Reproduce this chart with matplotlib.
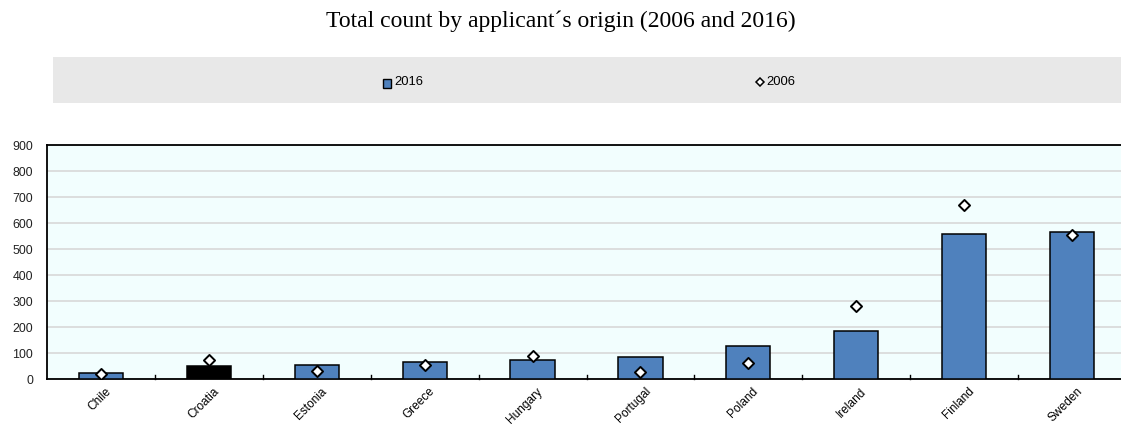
import matplotlib
matplotlib.use("Agg")
import matplotlib.pyplot as plt
from matplotlib.patches import Rectangle
from matplotlib import font_manager, transforms
import numpy as np

countries = ["Chile", "Croatia", "Estonia", "Greece", "Hungary", "Portugal",
             "Poland", "Ireland", "Finland", "Sweden"]
v2016 = [25, 50, 55, 66, 73, 86, 128, 187, 559, 564]
v2006 = [20, 74, 32, 56, 88, 27, 63, 281, 669, 554]
yticks = [0, 100, 200, 300, 400, 500, 600, 700, 800, 900]

names = {f.name for f in font_manager.fontManager.ttflist}
narrow = 'Liberation Sans Narrow' if 'Liberation Sans Narrow' in names else 'Liberation Sans'
scale = 1.0 if narrow == 'Liberation Sans Narrow' else 0.85
plt.rcParams['font.family'] = [narrow, 'DejaVu Sans']

W, H = 1121, 426
fig = plt.figure(figsize=(W / 100, H / 100), dpi=100)
ax = fig.add_axes([47 / W, 1 - 379.3 / H, 1079 / W, (379.3 - 145) / H])
ax.set_facecolor('#F2FEFE')

x = np.arange(len(countries))
colors = ['#4F81BD'] * len(countries)
colors[countries.index("Croatia")] = '#000000'
ax.bar(x, v2016, width=0.41, color=colors, edgecolor='black', linewidth=1.1, zorder=3)
ax.scatter(x, v2006, marker='D', s=32, facecolor='white', edgecolor='black',
           linewidth=1.4, zorder=4)

ax.set_xlim(-0.5, len(countries) - 0.5)
ax.set_ylim(0, 900)
ax.set_yticks(yticks)
ax.set_yticklabels([str(t) for t in yticks], fontsize=10.5 * scale, color='#222222')
ax.yaxis.grid(True, color='#D8D8D8', linewidth=1.2, zorder=0)
ax.tick_params(axis='y', length=0, pad=10)

ax.set_xticks(x)
ax.set_xticklabels(countries, rotation=45, ha='right', va='top',
                   rotation_mode='anchor', fontsize=8.6)
ax.tick_params(axis='x', length=0, pad=4.5)
off = transforms.ScaledTranslation(4 / 100, 0, fig.dpi_scale_trans)
for lab in ax.get_xticklabels():
    lab.set_transform(lab.get_transform() + off)
for b in np.arange(0.5, len(countries) - 0.5, 1.0):
    ax.plot([b, b], [0, 18], color='black', linewidth=1.0, zorder=5, clip_on=False)

for side in ['top', 'left', 'bottom']:
    ax.spines[side].set_linewidth(1.3)
    ax.spines[side].set_color('black')
ax.spines['right'].set_visible(False)

fig.text(0.5, 1 - 21 / H, "Total count by applicant\u00b4s origin (2006 and 2016)",
         ha='center', va='center', fontsize=17,
         family=['Liberation Serif', 'DejaVu Serif'])

# legend box
fig.patches.append(Rectangle((53 / W, 1 - 103 / H), (W - 53) / W, 46 / H,
                             transform=fig.transFigure, facecolor='#E8E8E8',
                             edgecolor='none', zorder=0))
fig.patches.append(Rectangle((383 / W, 1 - 87.5 / H), 8 / W, 9 / H,
                             transform=fig.transFigure, facecolor='#4F81BD',
                             edgecolor='black', linewidth=1.0, zorder=1))
fig.text(394 / W, 1 - 82 / H, "2016", ha='left', va='center', fontsize=11 * scale)
fig.lines.append(matplotlib.lines.Line2D([760 / W], [1 - 82 / H], marker='D',
                                         markersize=4.5, markerfacecolor='white',
                                         markeredgecolor='black', markeredgewidth=1.1,
                                         transform=fig.transFigure))
fig.text(766 / W, 1 - 82 / H, "2006", ha='left', va='center', fontsize=11 * scale)

fig.savefig("out.png", dpi=100)
